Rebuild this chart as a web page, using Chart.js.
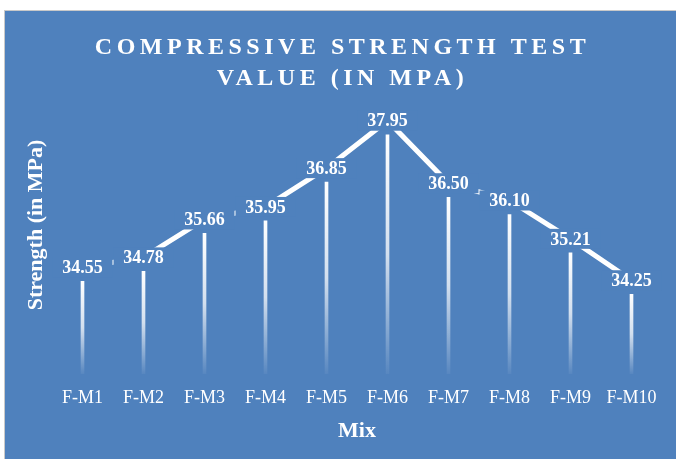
<!DOCTYPE html>
<html>
<head>
<title>Compressive Strength Test Value</title>
<script src="https://cdn.jsdelivr.net/npm/chart.js"></script>
<style>
  body { margin: 0; background: #fff; width: 676px; height: 459px; overflow: hidden; }
  .frame {
    position: absolute; left: 4px; top: 10px;
    width: 671px; height: 448px;
    border-left: 1px solid #c9c9c9; border-top: 1px solid #c9c9c9;
    background: #4f81bd;
  }
  canvas { display: block; }
</style>
</head>
<body>
<div class="frame"><canvas id="strengthChart" width="671" height="448"></canvas></div>
<script>
const mixes = ["F-M1", "F-M2", "F-M3", "F-M4", "F-M5", "F-M6", "F-M7", "F-M8", "F-M9", "F-M10"];
const strength = [34.55, 34.78, 35.66, 35.95, 36.85, 37.95, 36.50, 36.10, 35.21, 34.25];
const titleLines = ["COMPRESSIVE STRENGTH TEST", "VALUE (IN MPA)"];
const xTitle = "Mix";
const yTitle = "Strength (in MPa)";

const BG = "#4f81bd";
const SERIF = '"Liberation Serif", "Times New Roman", serif';
const LIFT = 14; // labels and connecting line sit a bit above the bar tops

function barFill(context) {
    const chart = context.chart;
    const y = chart.scales.y;
    if (!chart.chartArea || !y) return "rgba(255,255,255,0.8)";
    const top = y.getPixelForValue(context.raw);
    const bottom = chart.chartArea.bottom;
    const g = chart.ctx.createLinearGradient(0, top, 0, bottom);
    g.addColorStop(0, "rgba(255,255,255,1)");
    g.addColorStop(0.5, "rgba(255,255,255,0.75)");
    g.addColorStop(1, "rgba(255,255,255,0.05)");
    return g;
}

const decor = {
    id: "decor",
    beforeDatasetDraw(chart, args) {
        if (args.index === 1) {
            chart.ctx.save();
            chart.ctx.translate(0, -LIFT);
        }
    },
    afterDatasetDraw(chart, args) {
        if (args.index === 1) chart.ctx.restore();
    },
    afterDatasetsDraw(chart) {
        const ctx = chart.ctx;
        const meta = chart.getDatasetMeta(1);
        ctx.save();
        ctx.font = "bold 18px " + SERIF;
        ctx.textAlign = "center";
        ctx.textBaseline = "middle";
        meta.data.forEach(function (pt, i) {
            const x = pt.x, y = pt.y - LIFT;
            ctx.fillStyle = BG;
            ctx.fillRect(x - 30, y - 10, 60, 20);
            ctx.fillStyle = "#fff";
            ctx.fillText(strength[i].toFixed(2), x, y + 1);
        });
        ctx.restore();
    },
    afterDraw(chart) {
        const ctx = chart.ctx;
        ctx.save();
        ctx.fillStyle = "#fff";
        ctx.textAlign = "center";
        ctx.textBaseline = "middle";
        ctx.font = "bold 24px " + SERIF;
        ctx.letterSpacing = "4.5px";
        ctx.fillText(titleLines[0], chart.width / 2 + 2, 37);
        ctx.fillText(titleLines[1], chart.width / 2 + 2, 68);
        ctx.letterSpacing = "0px";
        ctx.font = "bold 22px " + SERIF;
        ctx.translate(31, 214);
        ctx.rotate(-Math.PI / 2);
        ctx.fillText(yTitle, 0, 0);
        ctx.restore();
    }
};

new Chart(document.getElementById("strengthChart"), {
    type: "bar",
    data: {
        labels: mixes,
        datasets: [{
            type: "bar",
            data: strength,
            backgroundColor: barFill,
            barThickness: 3,
            borderWidth: 0
        }, {
            type: "line",
            data: strength,
            borderColor: "#fff",
            borderWidth: 5,
            pointRadius: 0,
            tension: 0,
            fill: false,
            clip: false
        }]
    },
    options: {
        responsive: false,
        animation: false,
        layout: { padding: { left: 47, right: 14, top: 100, bottom: 14 } },
        plugins: {
            legend: { display: false },
            tooltip: { enabled: false }
        },
        scales: {
            x: {
                grid: { display: false, drawTicks: false },
                border: { display: false },
                ticks: { color: "#fff", padding: 13, font: { family: SERIF, size: 18 } },
                title: {
                    display: true, text: xTitle, color: "#fff",
                    padding: { top: -3, bottom: 0 },
                    font: { family: SERIF, size: 22, weight: "bold" }
                }
            },
            y: {
                display: false,
                min: 32.4,
                max: 38.5
            }
        }
    },
    plugins: [decor]
});
</script>
</body>
</html>
